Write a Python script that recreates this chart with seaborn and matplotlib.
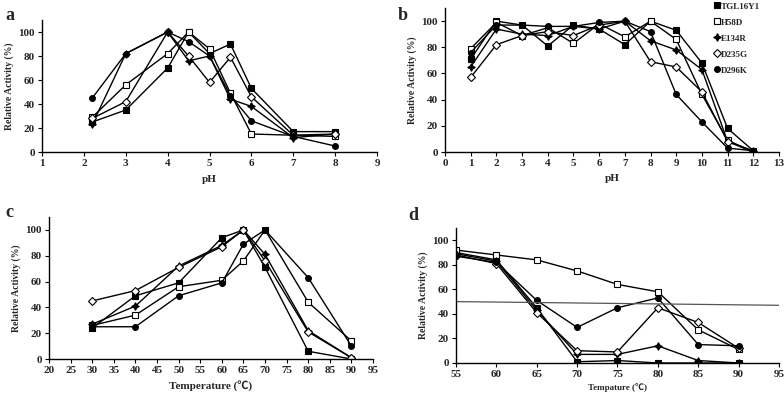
import matplotlib
matplotlib.use("Agg")
import matplotlib.pyplot as plt
import seaborn as sns
import numpy as np

sns.set_theme(style="white")
plt.rcParams['font.family'] = ['Liberation Serif', 'Noto Sans CJK SC']
plt.rcParams['font.weight'] = 'bold'

series = ["TGL16Y1", "H58D", "E134R", "D235G", "D296K"]

# Panel a: pH (acidic range)
a_x = [2.2, 3, 4, 4.5, 5, 5.5, 6, 7, 8]
a_vals = {
    "TGL16Y1": [25, 35, 70, 100, 82, 90, 53, 17, 17],
    "H58D":    [29, 56, 82, 100, 86, 49, 15, 14, 13],
    "E134R":   [23, 82, 100, 76, 80, 44, 38, 12, 15],
    "D235G":   [28, 42, 100, 80, 58, 79, 46, 14, 15],
    "D296K":   [45, 82, 100, 92, 80, 47, 26, 13, 5],
}

# Panel b: pH stability
b_x = [1, 2, 3, 4, 5, 6, 7, 8, 9, 10, 11, 12]
b_vals = {
    "TGL16Y1": [71, 100, 97, 81, 97, 94, 82, 100, 93, 68, 18, 1],
    "H58D":    [79, 99, 89, 95, 83, 98, 88, 100, 86, 44, 9, 0],
    "E134R":   [65, 94, 90, 89, 96, 94, 100, 85, 78, 63, 8, 1],
    "D235G":   [57, 82, 89, 92, 89, 97, 100, 69, 65, 46, 8, 0],
    "D296K":   [76, 97, 97, 96, 96, 99, 100, 92, 44, 23, 3, 1],
}

# Panel c: temperature optimum
c_x = [30, 40, 50, 60, 65, 70, 80, 90]
c_vals = {
    "TGL16Y1": [24, 49, 59, 94, 100, 71, 6, 0],
    "H58D":    [26, 34, 56, 61, 76, 100, 44, 14],
    "E134R":   [27, 41, 72, 88, 100, 81, 22, 1],
    "D235G":   [45, 53, 71, 87, 100, 76, 21, 1],
    "D296K":   [25, 25, 49, 59, 89, 100, 63, 10],
}

# Panel d: thermostability
d_x = [55, 60, 65, 70, 75, 80, 85, 90]
d_vals = {
    "TGL16Y1": [90, 84, 45, 1, 2, 0, 0, 0],
    "H58D":    [92, 88, 84, 75, 64, 58, 27, 11],
    "E134R":   [89, 83, 43, 7, 7, 14, 2, 0],
    "D235G":   [88, 81, 41, 10, 9, 45, 33, 12],
    "D296K":   [87, 82, 51, 29, 45, 53, 15, 14],
}
d_ref_x = [55, 95]
d_ref_y = [50, 47]

styles = {
    "TGL16Y1": dict(marker="s", markersize=4.5, markerfacecolor="black"),
    "H58D":    dict(marker="s", markersize=4.5, markerfacecolor="white"),
    "E134R":   dict(marker=(4, 1, 0), markersize=5.5, markerfacecolor="black"),
    "D235G":   dict(marker="D", markersize=3.8, markerfacecolor="white"),
    "D296K":   dict(marker="o", markersize=4.2, markerfacecolor="black"),
}

fig = plt.figure(figsize=(7.84, 4.01), dpi=100)
axa = fig.add_axes([0.0536, 0.6209, 0.4273, 0.3292])
axb = fig.add_axes([0.5676, 0.6209, 0.4260, 0.3590])
axc = fig.add_axes([0.0625, 0.1047, 0.4133, 0.3541])
axd = fig.add_axes([0.5816, 0.0948, 0.4120, 0.3367])

def draw(ax, xs, vals):
    for s in series:
        sns.lineplot(x=xs, y=vals[s], ax=ax, color="black", lw=1.0,
                     markeredgecolor="black", markeredgewidth=0.8,
                     label=s, legend=False, **styles[s])

draw(axa, a_x, a_vals)
draw(axb, b_x, b_vals)
draw(axc, c_x, c_vals)
draw(axd, d_x, d_vals)
sns.lineplot(x=d_ref_x, y=d_ref_y, ax=axd, color="#555555", lw=0.9, legend=False)

tick_fs = 8
for ax in (axa, axb, axc, axd):
    ax.set_ylim(0, 110)
    ax.set_yticks(range(0, 101, 20))
    for sp in ("top", "right"):
        ax.spines[sp].set_visible(False)
    for sp in ("left", "bottom"):
        ax.spines[sp].set_color("black")
        ax.spines[sp].set_linewidth(1.0)
    ax.tick_params(axis="both", which="both", direction="out", length=3, width=0.8,
                   color="black", labelsize=tick_fs, pad=2, bottom=True, left=True)
    ax.set_ylabel("Relative Activity (%)", fontsize=7, fontweight="bold", labelpad=3)
    ax.grid(False)

axa.set_xlim(1, 9); axa.set_xticks(range(1, 10))
axb.set_xlim(0, 13); axb.set_xticks(range(0, 14))
axc.set_xlim(20, 95); axc.set_xticks(range(20, 96, 5))
axd.set_xlim(55, 95); axd.set_xticks(range(55, 96, 5))

axa.set_xlabel("pH", fontsize=8, fontweight="bold", labelpad=5)
axb.set_xlabel("pH", fontsize=8, fontweight="bold", labelpad=4)
axc.set_xlabel("Temperature (℃)", fontsize=8, fontweight="bold", labelpad=4)
axd.set_xlabel("Tempature (℃)", fontsize=6.5, fontweight="bold", labelpad=3)

for ax in (axa, axb, axc, axd):
    for lab in ax.get_xticklabels() + ax.get_yticklabels():
        lab.set_fontweight("bold")

fig.text(5 / 784, 1 - 16 / 401, "a", fontsize=13, fontweight="bold", va="center")
fig.text(398 / 784, 1 - 15 / 401, "b", fontsize=13, fontweight="bold", va="center")
fig.text(5 / 784, 1 - 212 / 401, "c", fontsize=13, fontweight="bold", va="center")
fig.text(408 / 784, 1 - 215 / 401, "d", fontsize=13, fontweight="bold", va="center")

handles, labels = axb.get_legend_handles_labels()
leg = fig.legend(handles[:5], labels[:5], loc="upper left",
                 bbox_to_anchor=(708 / 784, 1.01), frameon=False,
                 fontsize=6.5, handlelength=0.6, handletextpad=0.1,
                 labelspacing=0.85, borderpad=0.2)
for t in leg.get_texts():
    t.set_fontweight("bold")

fig.savefig("out.png", dpi=100)
